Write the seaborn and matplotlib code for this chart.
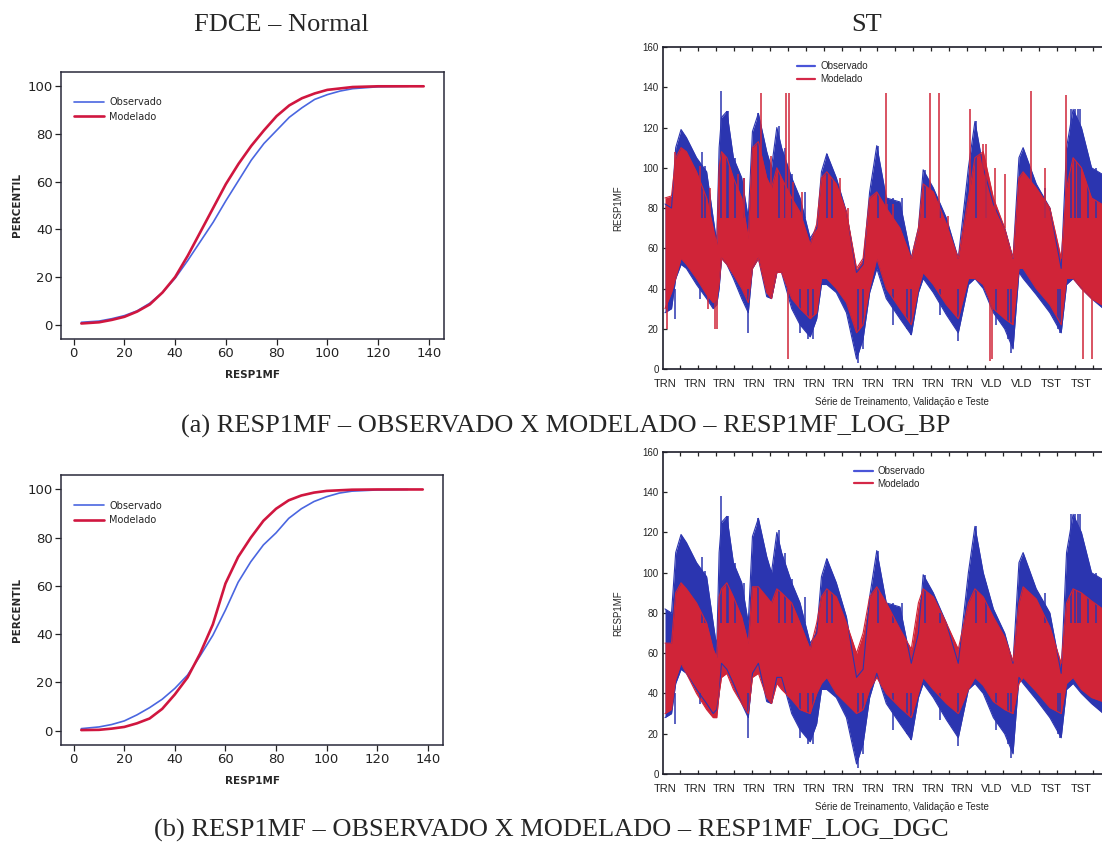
import numpy as np
import pandas as pd
import matplotlib
matplotlib.use("Agg")
import matplotlib.pyplot as plt
from matplotlib.lines import Line2D
from matplotlib.ticker import FixedLocator
import seaborn as sns

# ---------------------------------------------------------------- data
# Cumulative frequency curves (RESP1MF value -> percentile)
cdf_obs_a_x = [3, 10, 15, 20, 25, 30, 35, 40, 45, 50, 55, 60, 65, 70, 75, 80, 85, 90, 95, 100, 105, 110, 120, 132]
cdf_obs_a_y = [1, 1.5, 2.5, 3.8, 5.8, 9, 13.5, 19.5, 27, 35, 43, 52, 60.5, 69, 76, 81.5, 87, 91, 94.5, 96.5, 98, 99, 99.8, 100]
cdf_mod_a_x = [3, 10, 15, 20, 25, 30, 35, 40, 45, 50, 55, 60, 65, 70, 75, 80, 85, 90, 95, 100, 110, 120, 138]
cdf_mod_a_y = [0.5, 1, 2, 3.3, 5.5, 8.5, 13.5, 20, 29, 39, 49, 59, 67.5, 75, 81.5, 87.5, 92, 95, 97, 98.5, 99.7, 100, 100]

cdf_obs_b_x = [3, 10, 15, 20, 25, 30, 35, 40, 45, 50, 55, 60, 65, 70, 75, 80, 85, 90, 95, 100, 105, 110, 120, 132]
cdf_obs_b_y = [0.8, 1.5, 2.5, 4, 6.5, 9.5, 13, 17.5, 23, 31, 39.5, 50, 61.5, 70, 77, 82, 88, 92, 95, 97, 98.5, 99.3, 99.8, 100]
cdf_mod_b_x = [3, 10, 15, 20, 25, 30, 35, 40, 45, 50, 55, 60, 65, 70, 75, 80, 85, 90, 95, 100, 110, 120, 138]
cdf_mod_b_y = [0.2, 0.3, 0.8, 1.5, 3, 5, 9, 15, 22, 32, 44, 61, 72, 80, 87, 92, 95.5, 97.5, 98.7, 99.4, 99.9, 100, 100]

# Time series (observation index): band envelopes of the dense series
ts_x = [0, 11, 18, 27, 36, 53, 70, 81, 87, 91, 95, 104, 115, 129, 140, 147, 157, 171, 179, 188,
        196, 213, 227, 244, 255, 263, 272, 288, 305, 322, 333, 344, 356, 372, 395, 414, 426, 434, 451,
        473, 493, 510, 521, 535, 552, 571, 585, 595, 602, 624, 647, 666, 675, 686, 700, 717, 745]

obs_hi = [82, 80, 110, 119, 115, 105, 98, 75, 63, 110, 125, 128, 105, 95, 75, 118, 127, 108, 100, 120,
          110, 95, 85, 65, 70, 98, 107, 95, 78, 48, 52, 88, 111, 85, 83, 55, 70, 99, 90,
          75, 55, 100, 123, 100, 82, 70, 55, 105, 110, 92, 80, 50, 110, 129, 120, 100, 95]
obs_lo = [28, 30, 45, 52, 50, 42, 35, 30, 32, 40, 55, 52, 45, 35, 28, 50, 55, 36, 35, 48,
          48, 30, 22, 16, 25, 42, 42, 38, 28, 5, 15, 38, 50, 35, 25, 17, 38, 45, 38,
          27, 18, 42, 45, 40, 28, 20, 10, 48, 45, 37, 28, 18, 42, 45, 40, 35, 28]

mod_a_hi = [85, 86, 105, 110, 108, 98, 85, 70, 62, 100, 108, 105, 95, 85, 65, 110, 113, 95, 90, 100,
            95, 85, 78, 62, 72, 95, 98, 92, 78, 50, 55, 85, 88, 80, 70, 55, 70, 92, 88,
            72, 55, 85, 105, 108, 85, 70, 55, 95, 98, 90, 80, 55, 90, 105, 100, 85, 80]
mod_a_lo = [30, 38, 45, 55, 52, 45, 37, 33, 35, 42, 55, 52, 47, 40, 33, 50, 55, 38, 35, 48,
            48, 35, 30, 25, 28, 45, 45, 40, 33, 18, 22, 40, 55, 40, 30, 22, 40, 48, 42,
            32, 25, 45, 45, 42, 30, 25, 22, 50, 50, 40, 32, 22, 45, 45, 40, 35, 30]

mod_b_hi = [65, 65, 90, 95, 92, 85, 75, 62, 58, 88, 92, 95, 88, 78, 65, 93, 93, 88, 85, 92,
            90, 85, 75, 62, 75, 88, 92, 88, 75, 60, 70, 88, 93, 85, 72, 62, 85, 92, 88,
            75, 62, 85, 92, 88, 78, 68, 56, 85, 93, 87, 73, 55, 85, 92, 90, 86, 80]
mod_b_lo = [30, 32, 47, 55, 50, 40, 32, 28, 28, 40, 48, 50, 42, 35, 30, 48, 50, 38, 35, 45,
            42, 37, 32, 30, 40, 45, 48, 40, 35, 30, 32, 42, 48, 40, 33, 28, 40, 48, 42,
            35, 30, 42, 48, 44, 36, 32, 30, 45, 48, 41, 33, 30, 45, 48, 42, 38, 35]

# Isolated spikes of the series
obs_up_x = [94, 104, 106, 157, 192, 272, 358, 437, 522, 683, 689, 694, 698,
            62, 67, 118, 133, 202, 213, 235, 280, 384, 398, 462, 540, 638, 711, 725]
obs_up_y = [138, 128, 128, 127, 121, 107, 111, 99, 123, 129, 129, 129, 129,
            108, 101, 105, 95, 110, 97, 88, 95, 85, 85, 80, 95, 90, 100, 100]
obs_dn_x = [139, 241, 325, 414, 493, 582, 664, 17, 59, 227, 249, 333, 384, 406, 462, 557, 577, 661]
obs_dn_y = [18, 15, 3, 17, 14, 8, 18, 25, 35, 18, 15, 10, 22, 20, 27, 22, 15, 20]
mod_a_up_x = [162, 204, 208, 371, 446, 460, 512, 535, 616, 674,
              17, 59, 76, 123, 133, 178, 216, 230, 294, 308, 374, 384, 476, 540, 554, 571, 638]
mod_a_up_y = [137, 137, 137, 137, 137, 137, 129, 112, 138, 136,
              108, 101, 90, 97, 95, 106, 93, 88, 95, 80, 82, 82, 76, 112, 100, 97, 100]
mod_a_dn_x = [3, 84, 87, 207, 546, 550, 703, 717, 73]
mod_a_dn_y = [20, 20, 20, 5, 4, 5, 5, 5, 30]

split_pos = [0, 50, 100, 150, 200, 250, 300, 350, 400, 450, 500, 550, 600, 650, 700]
split_lab = ["TRN"] * 11 + ["VLD", "VLD", "TST", "TST"]

# ---------------------------------------------------------------- style
sns.set_theme(style="white")
plt.rcParams["font.family"] = ["DejaVu Sans"]

BLUE_L = "#4a66e0"
RED_L = "#d0163f"
BLUE_S = "#2b35b0"
RED_S = "#d02438"
SERIF = ["Liberation Serif", "DejaVu Serif"]
ARIAL = ["Liberation Sans", "DejaVu Sans"]

fig = plt.figure(figsize=(11.02, 8.47), dpi=100)


def cdf_panel(rect, ox, oy, mx, my):
    ax = fig.add_axes(rect)
    d_obs = pd.DataFrame({"x": ox, "y": oy})
    d_mod = pd.DataFrame({"x": mx, "y": my})
    sns.lineplot(data=d_obs, x="x", y="y", ax=ax, color=BLUE_L, lw=1.2, label="Observado")
    sns.lineplot(data=d_mod, x="x", y="y", ax=ax, color=RED_L, lw=1.9, label="Modelado")
    ax.set_xlim(-5, 146)
    ax.set_ylim(-6, 106)
    ax.set_xticks(range(0, 141, 20))
    ax.set_yticks(range(0, 101, 20))
    ax.tick_params(axis="both", direction="out", length=4, width=0.9, labelsize=9.5,
                   colors="#222222", left=True, bottom=True, pad=2)
    for s in ax.spines.values():
        s.set_color("#2a2a3a")
        s.set_linewidth(1.1)
    ax.set_xlabel("RESP1MF", fontsize=7.5, fontweight="bold", labelpad=7)
    ax.set_ylabel("PERCENTIL", fontsize=7.5, fontweight="bold", labelpad=4)
    ax.legend(loc="upper left", bbox_to_anchor=(0.035, 0.905), frameon=False, fontsize=7,
              handlelength=3.0, handletextpad=0.6, borderpad=0, borderaxespad=0,
              labelspacing=0.45)
    return ax


def series_panel(rect, mhi, mlo, up_x, up_y, dn_x, dn_y, leg_x):
    ax = fig.add_axes(rect)
    # observed band and spikes
    ax.fill_between(ts_x, obs_lo, obs_hi, color=BLUE_S, lw=0)
    sns.lineplot(x=ts_x, y=obs_hi, ax=ax, color=BLUE_S, lw=0.8)
    sns.lineplot(x=ts_x, y=obs_lo, ax=ax, color=BLUE_S, lw=0.8)
    ax.vlines(obs_up_x, 75, obs_up_y, color=BLUE_S, lw=1.1)
    ax.vlines(obs_dn_x, 40, obs_dn_y, color=BLUE_S, lw=1.1)
    # modelled band and spikes
    ax.fill_between(ts_x, mlo, mhi, color=RED_S, lw=0)
    sns.lineplot(x=ts_x, y=mhi, ax=ax, color=RED_S, lw=0.8)
    sns.lineplot(x=ts_x, y=mlo, ax=ax, color=RED_S, lw=0.8)
    if up_x:
        ax.vlines(up_x, 70, up_y, color=RED_S, lw=1.1)
    if dn_x:
        ax.vlines(dn_x, 40, dn_y, color=RED_S, lw=1.1)
    ax.set_xlim(-3.4, 800)
    ax.set_ylim(0, 160)
    ax.set_yticks(range(0, 161, 20))
    ax.xaxis.set_major_locator(FixedLocator(split_pos))
    ax.set_xticklabels(split_lab, fontsize=8, family=ARIAL)
    ax.xaxis.set_minor_locator(FixedLocator(list(np.arange(25, 800, 30.2))))
    ax.tick_params(axis="x", which="major", length=0, pad=7, colors="#222222")
    ax.tick_params(axis="x", which="minor", direction="in", length=3, width=0.9,
                   top=True, bottom=True, color="#222222")
    ax.tick_params(axis="y", which="major", direction="in", length=3, width=0.9,
                   left=True, labelsize=7, pad=3, colors="#222222")
    for lab in ax.get_yticklabels():
        lab.set_family(ARIAL)
    for s in ax.spines.values():
        s.set_color("#1e1e2a")
        s.set_linewidth(1.2)
    ax.set_xlabel("Série de Treinamento, Validação e Teste", fontsize=7, family=ARIAL, labelpad=6)
    ax.set_ylabel("RESP1MF", fontsize=7, family=ARIAL, labelpad=14)
    handles = [Line2D([], [], color="#4a55d8", lw=1.6), Line2D([], [], color="#d42848", lw=1.6)]
    ax.legend(handles, ["Observado", "Modelado"], loc="upper left", bbox_to_anchor=(leg_x, 0.955),
              frameon=False, prop={"family": ARIAL, "size": 7}, handlelength=1.9,
              handletextpad=0.5, borderpad=0, borderaxespad=0, labelspacing=0.25)
    return ax


cdf_panel([0.0554, 0.5998, 0.3475, 0.3152], cdf_obs_a_x, cdf_obs_a_y, cdf_mod_a_x, cdf_mod_a_y)
cdf_panel([0.0554, 0.1204, 0.3466, 0.3188], cdf_obs_b_x, cdf_obs_b_y, cdf_mod_b_x, cdf_mod_b_y)
series_panel([0.6016, 0.5643, 0.4337, 0.3802], mod_a_hi, mod_a_lo,
             mod_a_up_x, mod_a_up_y, mod_a_dn_x, mod_a_dn_y, 0.28)
series_panel([0.6016, 0.0862, 0.4337, 0.3802], mod_b_hi, mod_b_lo, [], [], [], [], 0.40)

fig.text(0.255, 0.97, "FDCE – Normal", family=SERIF, fontsize=19, ha="center", va="center")
fig.text(0.786, 0.97, "ST", family=SERIF, fontsize=19, ha="center", va="center")
fig.text(0.513, 0.497, "(a) RESP1MF – OBSERVADO X MODELADO – RESP1MF_LOG_BP",
         family=SERIF, fontsize=19, ha="center", va="center")
fig.text(0.500, 0.020, "(b) RESP1MF – OBSERVADO X MODELADO – RESP1MF_LOG_DGC",
         family=SERIF, fontsize=19, ha="center", va="center")

fig.savefig("out.png", dpi=100)
